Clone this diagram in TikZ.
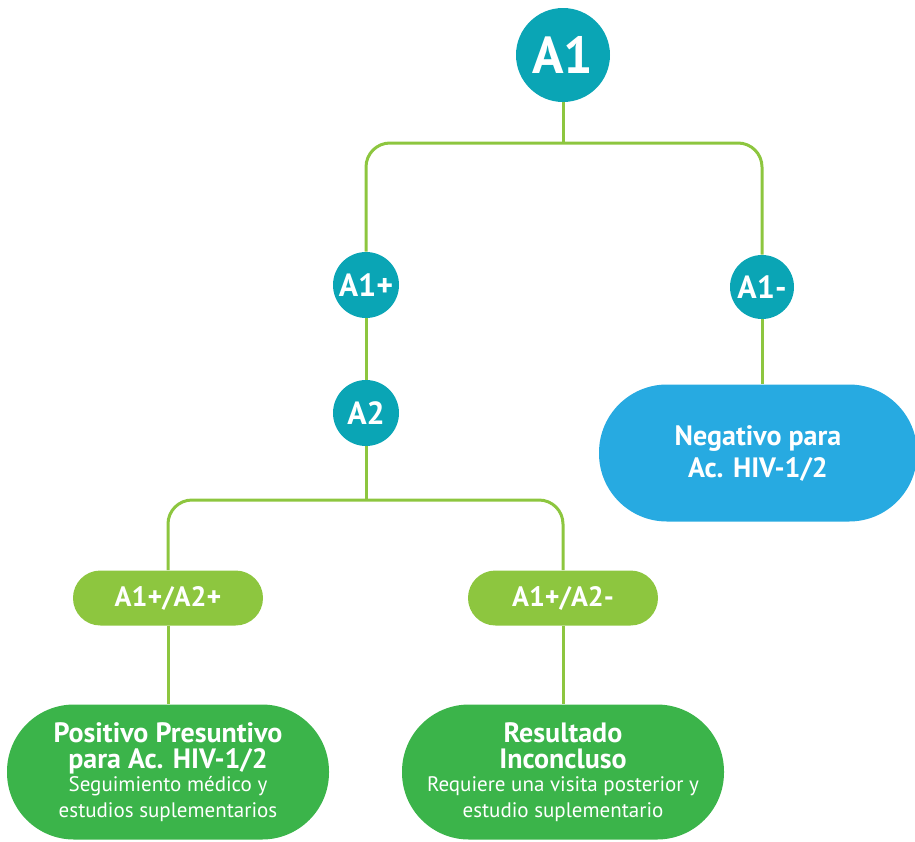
\documentclass[tikz,border=0pt]{standalone}
\usepackage{fontspec}
\setmainfont{PT Sans}
\usepackage{xcolor}
\usepackage{tikz}
\usetikzlibrary{positioning}

\definecolor{tealA}{RGB}{10,165,181}
\definecolor{limeA}{RGB}{141,198,63}
\definecolor{greenA}{RGB}{59,180,74}
\definecolor{blueA}{RGB}{39,170,225}

\newcommand{\subtxt}[1]{{\mdseries\fontsize{10.5}{11}\selectfont #1}}
\newcommand{\tightlines}{\lineskiplimit -20pt\relax}

\begin{document}
\begin{tikzpicture}[x=0.5pt,y=-0.5pt,
  test/.style={circle,fill=tealA,text=white,font=\bfseries\fontsize{16}{18}\selectfont,inner sep=0pt},
  res/.style={fill=limeA,text=white,font=\bfseries\fontsize{14}{16}\selectfont,minimum width=95pt,minimum height=27.5pt,rounded corners=13.7pt},
  fin/.style={text=white,align=center,minimum width=161pt,minimum height=67.5pt,rounded corners=33.5pt,font=\bfseries\fontsize{14}{13}\selectfont\tightlines},
  link/.style={draw=limeA,line width=1.5pt}]

\useasboundingbox (0,0) rectangle (915,841);

  \node[test,minimum size=47pt,font=\bfseries\fontsize{26}{28}\selectfont] (a1) at (563,55) {A1};
  \node[test,minimum size=33pt] (a1p) at (366,285) {A1+};
  \node[test,minimum size=33pt] (a2) at (366,413) {A2};
  \node[test,minimum size=32pt] (a1m) at (762,287) {A1-};

  \node[fin,fill=blueA,minimum width=159pt,minimum height=68.5pt,rounded corners=34pt,font=\bfseries\fontsize{14}{16}\selectfont] (neg) at (758,453) {Negativo para\\Ac. HIV-1/2};

  \node[res] (r1) at (168,598) {A1+/A2+};
  \node[res] (r2) at (563,598) {A1+/A2-};

  \node[fin,fill=greenA] (pos) at (168,772) {Positivo Presuntivo\\para Ac. HIV-1/2\\[-1.5pt]
    \subtxt{Seguimiento médico y}\\[0pt]\subtxt{estudios suplementarios}};
  \node[fin,fill=greenA] (inc) at (563,772) {Resultado\\Inconcluso\\[-1.5pt]
    \subtxt{Requiere una visita posterior y}\\[0pt]\subtxt{estudio suplementario}};

  \coordinate (s1) at (563,143);
  \coordinate (s2) at (366,500);

  \draw[link] (a1) -- (s1);
  \draw[link,rounded corners=12pt] (a1p) |- (s1) -| (a1m);
  \draw[link] (a1p) -- (a2);
  \draw[link] (a1m) -- (a1m |- neg.north);
  \draw[link] (a2) -- (s2);
  \draw[link,rounded corners=12pt] (r1) |- (s2) -| (r2);
  \draw[link] (r1) -- (pos);
  \draw[link] (r2) -- (inc);
\end{tikzpicture}
\end{document}
